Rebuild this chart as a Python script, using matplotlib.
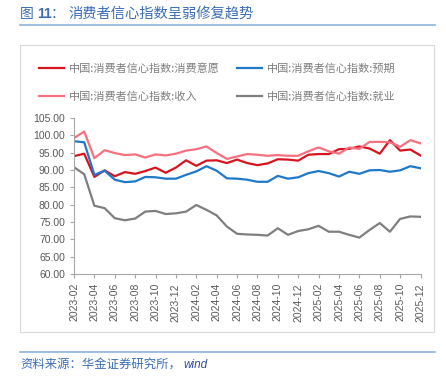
import matplotlib
matplotlib.use("Agg")
import matplotlib.pyplot as plt
from matplotlib.patches import Rectangle
from matplotlib.lines import Line2D

plt.rcParams['font.family'] = ['Liberation Sans', 'Noto Sans CJK SC', 'DejaVu Sans']

months = []
for y in (2023, 2024, 2025):
    for m in range(1, 13):
        if y == 2023 and m == 1:
            continue
        months.append(f"{y}-{m:02d}")

# 消费意愿
willing = [94.0, 94.7, 88.0, 89.9, 88.2, 89.4, 88.9, 89.7, 90.7, 89.2, 90.7, 92.8,
           91.2, 92.7, 92.8, 92.0, 93.0, 92.0, 91.4, 91.9, 93.1, 93.0, 92.7, 94.4,
           94.6, 94.6, 96.0, 96.1, 96.8, 96.2, 94.7, 98.6, 95.6, 95.9, 94.2]
# 预期
expect = [98.3, 98.0, 88.6, 89.8, 87.2, 86.5, 86.7, 88.0, 87.9, 87.5, 87.5, 88.6,
          89.6, 91.1, 89.8, 87.6, 87.5, 87.2, 86.6, 86.6, 88.3, 87.5, 87.9, 89.1,
          89.7, 89.1, 88.1, 89.5, 88.9, 89.9, 90.0, 89.5, 89.9, 91.1, 90.5]
# 收入
income = [99.2, 101.1, 93.4, 95.7, 94.9, 94.3, 94.5, 93.6, 94.5, 94.2, 94.7, 95.6,
          96.0, 96.8, 94.9, 93.2, 93.9, 94.6, 94.4, 94.1, 94.3, 94.1, 94.1, 95.4,
          96.5, 95.4, 94.7, 96.5, 96.1, 98.1, 98.1, 98.0, 96.7, 98.6, 97.7]
# 就业
employ = [90.8, 88.8, 79.7, 79.0, 76.1, 75.5, 76.0, 78.0, 78.2, 77.3, 77.5, 78.0,
          79.9, 78.5, 76.9, 73.7, 71.6, 71.4, 71.3, 71.1, 73.2, 71.3, 72.4, 72.9,
          73.9, 72.2, 72.2, 71.3, 70.5, 72.7, 74.7, 72.2, 75.9, 76.6, 76.5]

labels = ["中国:消费者信心指数:消费意愿", "中国:消费者信心指数:预期",
          "中国:消费者信心指数:收入", "中国:消费者信心指数:就业"]
colors = ["#D7141E", "#1F78C8", "#F7707F", "#7F7F7F"]

W, H = 446, 383
fig = plt.figure(figsize=(W / 100, H / 100), dpi=100)
cjk = ['Noto Sans CJK SC']
blue = "#3A6DB5"

# title
fig.text(20 / W, 1 - 14 / H, "图", color=blue, fontsize=10, va="center", family=cjk)
fig.text(37 / W, 1 - 14 / H, "11", color=blue, fontsize=10, va="center",
         fontweight="bold")
fig.text(51 / W, 1 - 14 / H, "：", color=blue, fontsize=10, va="center", family=cjk)
fig.text(68 / W, 1 - 14 / H, "消费者信心指数呈弱修复趋势", color=blue,
         fontsize=10.3, va="center", family=cjk)
fig.add_artist(Line2D([20 / W, 435 / W], [1 - 24.5 / H, 1 - 24.5 / H],
                      color="#8DB4DD", lw=1.2))

# chart frame
fig.add_artist(Rectangle((20 / W, 1 - 332 / H), 414 / W, 287 / H,
                         fill=False, edgecolor="#D9D9D9", lw=0.8))

ax = fig.add_axes([74 / W, 1 - 274 / H, 346.5 / W, 156 / H])
series = [willing, expect, income, employ]
x = list(range(len(months)))
handles = []
for s, c, lab in zip(series, colors, labels):
    h, = ax.plot(x, s, color=c, lw=1.6, label=lab)
    handles.append(h)

ax.set_xlim(0, len(months) - 1)
ax.set_ylim(60, 105)
ax.set_yticks(range(60, 106, 5))
ax.set_yticklabels([f"{v:.2f}" for v in range(60, 106, 5)])
ax.set_xticks(x[::2])
ax.set_xticklabels(months[::2], rotation=90)
for sp in ("top", "right"):
    ax.spines[sp].set_visible(False)
for sp in ("left", "bottom"):
    ax.spines[sp].set_color("#A6A6A6")
ax.tick_params(colors="#A6A6A6", labelcolor="#595959", labelsize=7.5, length=3, width=0.8)

# legend filled row by row
order = [0, 2, 1, 3]
fig.legend([handles[i] for i in order], [labels[i] for i in order],
           loc="upper left", bbox_to_anchor=(29 / W, 1 - 53 / H), ncol=2,
           frameon=False, labelcolor="#7F7F7F", handlelength=2.25,
           handletextpad=0.45, columnspacing=1.5, labelspacing=1.55,
           prop={'family': cjk, 'size': 8})

# footer
fig.add_artist(Line2D([20 / W, 435 / W], [1 - 352 / H, 1 - 352 / H],
                      color="#8DB4DD", lw=1.2))
fig.text(20 / W, 1 - 365 / H, "资料来源：华金证券研究所，", color=blue,
         fontsize=8.9, va="center", family=cjk)
fig.text(183 / W, 1 - 365 / H, "wind", color="#2E4F9E", fontsize=8.5, va="center",
         style="italic")

fig.savefig("out.png", dpi=100)
